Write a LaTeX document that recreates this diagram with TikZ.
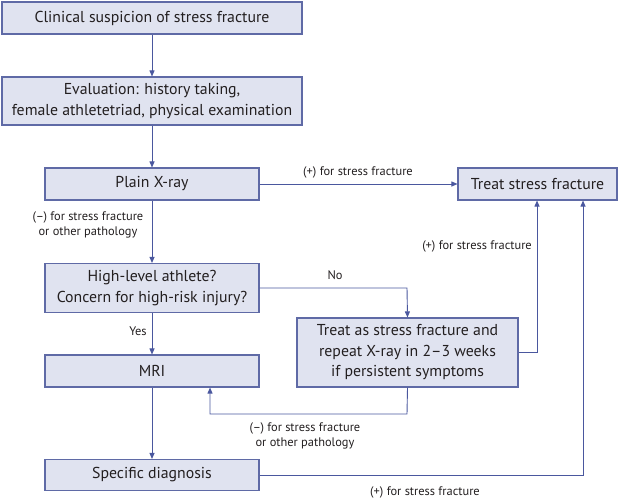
\documentclass[tikz,border=0pt]{standalone}
\usepackage{fontspec}
\setmainfont{PT Sans}
\usetikzlibrary{arrows.meta}
\definecolor{boxfill}{HTML}{E0E3F0}
\definecolor{boxdraw}{HTML}{5F6AA6}
\definecolor{arr}{HTML}{4A579E}
\definecolor{txt}{HTML}{231F20}
\tikzset{
  flowbox/.style={draw=boxdraw, fill=boxfill, line width=1.1pt, inner sep=0pt, align=center,
    text=txt, font=\fontsize{15.8}{20.5}\selectfont},
  conn/.style={draw=arr, line width=0.9pt, -{Triangle[length=6pt,width=5pt]}},
  lbl/.style={text=txt, font=\fontsize{12.4}{15}\selectfont, align=center, inner sep=0pt}
}
\begin{document}
\begin{tikzpicture}[x=1pt,y=-1pt]
\useasboundingbox (0,0) rectangle (620,500);
\node[flowbox, minimum width=300pt, minimum height=32pt] (b1) at (152,18) {Clinical suspicion of stress fracture};
\node[flowbox, minimum width=300pt, minimum height=48pt] (b2) at (152,101) {Evaluation: history taking,\\female athletetriad, physical examination};
\node[flowbox, minimum width=214pt, minimum height=32pt] (xray) at (152,184) {Plain X-ray};
\node[flowbox, minimum width=159pt, minimum height=32pt] (treat) at (537.5,184) {Treat stress fracture};
\node[flowbox, minimum width=214pt, minimum height=49pt] (high) at (152,288) {High-level athlete?\\Concern for high-risk injury?};
\node[flowbox, minimum width=221pt, minimum height=69pt] (tas) at (407.5,352.5) {Treat as stress fracture and\\repeat X-ray in 2--3 weeks\\if persistent symptoms};
\node[flowbox, minimum width=214pt, minimum height=32pt] (mri) at (152,371) {MRI};
\node[flowbox, minimum width=214pt, minimum height=31pt] (spec) at (152,475) {Specific diagnosis};

\coordinate (c1) at (407,288);
\coordinate (c2) at (537,352);
\coordinate (c3) at (407,414);
\coordinate (c4) at (210,414);
\coordinate (c5) at (583,475);

\draw[conn] (b1) -- (b2);
\draw[conn] (b2) -- (xray);
\draw[conn] (xray) -- (treat);
\draw[conn] (xray) -- (high);
\draw[conn] (high.east) -- (c1) -- (tas.north);
\draw[conn] (high) -- (mri);
\draw[conn] (tas.east |- c2) -- (c2) -- (c2 |- treat.south);
\draw[conn] (tas.south) -- (c3) -- (c4) -- (c4 |- mri.south);
\draw[conn] (mri) -- (spec);
\draw[conn] (spec.east) -- (c5) -- (c5 |- treat.south);

\node[lbl] (l1) at (358,172) {(+) for stress fracture};
\node[lbl] (l2) at (88,225) {(--) for stress fracture\\or other pathology};
\node[lbl] (l3) at (335,275) {No};
\node[lbl] (l4) at (138,331) {Yes};
\node[lbl] (l5) at (477,246) {(+) for stress fracture};
\node[lbl] (l6) at (305,436) {(--) for stress fracture\\or other pathology};
\node[lbl] (l7) at (425,492) {(+) for stress fracture};
\end{tikzpicture}
\end{document}
